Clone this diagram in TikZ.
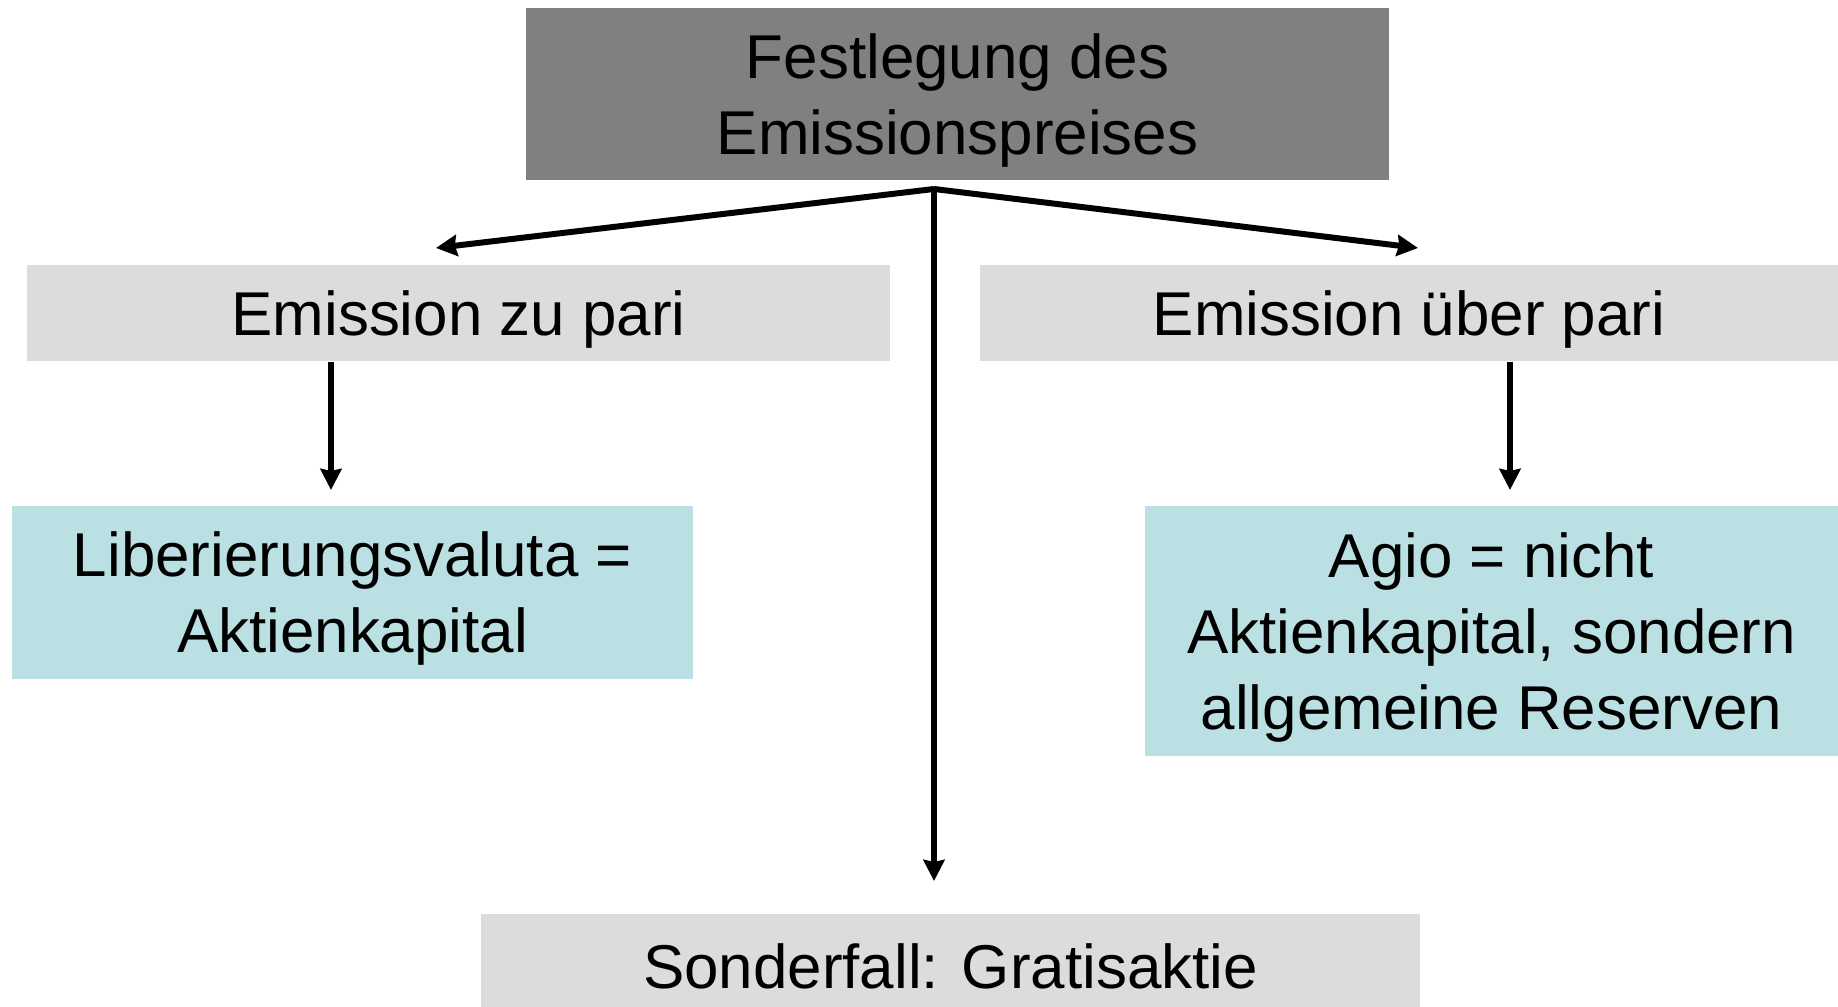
\documentclass[tikz,border=0pt]{standalone}
\usepackage{fontspec}
\setmainfont{Liberation Sans}
\usetikzlibrary{arrows.meta}
\definecolor{headgray}{HTML}{808080}
\definecolor{boxgray}{HTML}{DCDCDC}
\definecolor{boxcyan}{HTML}{BBE0E3}
\newcommand{\boxtext}[2][0.07cm]{\raisebox{-#1}[\height][\depth]{\begin{tabular}{@{}c@{}}#2\end{tabular}}}
\tikzset{
    box/.style={inner sep=0pt,font=\fontsize{17.6}{21.6}\selectfont},
    flow/.style={draw,line width=1.7pt,-{Stealth[length=6pt,width=6pt,inset=0.6pt]}}
}
\begin{document}
\begin{tikzpicture}[x=0.01cm,y=-0.01cm]
\useasboundingbox (0,0) rectangle (1838,1007);
\node[box,fill=headgray,minimum width=8.63cm,minimum height=1.72cm] at (957.5,94)(head){\boxtext{Festlegung des\\Emissionspreises}};
\node[box,fill=boxgray,minimum width=8.63cm,minimum height=0.96cm] at (458.5,313)(zu){\boxtext{Emission zu pari}};
\node[box,fill=boxgray,minimum width=8.58cm,minimum height=0.96cm] at (1409,313)(ueber){\boxtext{Emission über pari}};
\node[box,fill=boxcyan,minimum width=6.81cm,minimum height=1.73cm] at (352.5,592.5)(lib){\boxtext{Liberierungsvaluta =\\Aktienkapital}};
\node[box,fill=boxcyan,minimum width=6.93cm,minimum height=2.5cm] at (1491.5,631)(agio){\boxtext{Agio = nicht\\Aktienkapital, sondern\\allgemeine Reserven}};
\node[box,fill=boxgray,minimum width=9.39cm,minimum height=0.93cm] at (950.5,960.5)(sonder){\boxtext[0.13cm]{Sonderfall: Gratisaktie}};
% fork below the head box
\coordinate (fork) at (934,189);
\coordinate (zuTip) at (436,248);
\coordinate (ueberTip) at (1418,248);
\coordinate (sonderTip) at (934,881);
\coordinate (libTip) at (331,490);
\coordinate (agioTip) at (1510,490);
\path[flow] (fork) -- (zuTip);
\path[flow] (fork) -- (ueberTip);
\path[flow] (fork) -- (sonderTip);
\path[flow] (zu.south -| libTip) -- (libTip);
\path[flow] (ueber.south -| agioTip) -- (agioTip);
\end{tikzpicture}
\end{document}
